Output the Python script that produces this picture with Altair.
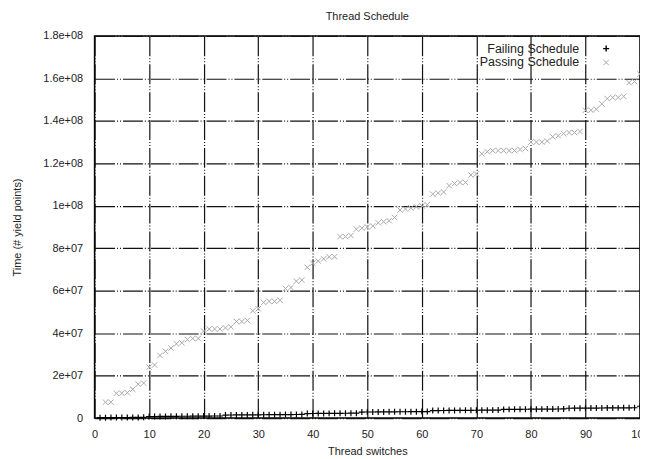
import altair as alt
import pandas as pd

# ---- data ----
fail_x = list(range(1, 101))
fail_y_e6 = [
    0.20, 0.22, 0.24, 0.26, 0.28, 0.30, 0.32, 0.34, 0.36,
    0.75, 0.77, 0.79, 0.81, 0.83, 0.85, 0.87, 0.89, 0.91, 0.93, 0.95, 0.97, 0.99, 1.01,
    1.45, 1.47, 1.49, 1.51, 1.53, 1.55, 1.57, 1.59, 1.61, 1.63, 1.65, 1.67, 1.69, 1.71, 1.73,
    2.15, 2.17, 2.19, 2.21, 2.23, 2.25, 2.27, 2.29, 2.31, 2.33,
    2.85, 2.87, 2.89, 2.91, 2.93, 2.95, 2.97, 2.99, 3.01, 3.03, 3.05, 3.07, 3.09,
    3.55, 3.57, 3.59, 3.61, 3.63, 3.65, 3.67, 3.69, 3.71, 3.73, 3.75, 3.77, 3.79,
    4.10, 4.12, 4.14, 4.16, 4.18, 4.20, 4.22, 4.24, 4.26, 4.28, 4.30, 4.32,
    4.65, 4.67, 4.69, 4.71, 4.73, 4.75, 4.77, 4.79, 4.81, 4.83, 4.85, 4.87, 4.89,
    5.6,
]
pass_x = list(range(2, 101))
pass_y_e7 = [
    0.75, 0.75, 1.17, 1.17, 1.2, 1.36, 1.6, 1.65,
    2.4, 2.5, 2.95, 3.15, 3.3, 3.5, 3.55, 3.7, 3.75, 3.75,
    4.1, 4.2, 4.2, 4.2, 4.25, 4.3, 4.55, 4.55, 4.6, 5.05,
    5.15, 5.45, 5.5, 5.5, 5.55, 6.1, 6.15, 6.45, 6.5, 7.1,
    7.3, 7.4, 7.5, 7.6, 7.6, 8.55, 8.55, 8.6, 8.9, 8.95,
    9.0, 9.05, 9.2, 9.25, 9.3, 9.45, 9.8, 9.85, 9.9, 9.95,
    10.0, 10.05, 10.55, 10.6, 10.65, 10.95, 11.05, 11.1, 11.1, 11.45,
    11.5, 12.45, 12.55, 12.6, 12.6, 12.6, 12.6, 12.6, 12.65, 12.7,
    13.0, 13.0, 13.0, 13.05, 13.25, 13.3, 13.4, 13.45, 13.45, 13.5,
    14.5, 14.5, 14.55, 14.8, 15.05, 15.1, 15.1, 15.15, 15.8, 15.85, 16.2,
]
x_ticks = [0, 10, 20, 30, 40, 50, 60, 70, 80, 90, 100]
y_ticks = [0, 2e7, 4e7, 6e7, 8e7, 1e8, 1.2e8, 1.4e8, 1.6e8, 1.8e8]
legend_labels = ["Failing Schedule", "Passing Schedule"]
chart_title = "Thread Schedule"
x_title = "Thread switches"
y_title = "Time (# yield points)"

fail_df = pd.DataFrame({"x": fail_x, "y": [v * 1e6 for v in fail_y_e6]})
pass_df = pd.DataFrame({"x": pass_x, "y": [v * 1e7 for v in pass_y_e7]})

FONT = "Liberation Sans"
TXT = "#222222"
X_PATH = "M-1,-1L1,1M-1,1L1,-1"
PLUS_PATH = "M-1,0L1,0M0,-1L0,1"
GRID_DASH = [20, 2, 1, 2, 1, 2]

xenc = alt.X(
    "x:Q",
    scale=alt.Scale(domain=[0, 100], nice=False),
    axis=alt.Axis(values=x_ticks, title=x_title, grid=True, domain=False, ticks=False,
                  labelPadding=10, titlePadding=7, labelFlush=False),
)
yenc = alt.Y(
    "y:Q",
    scale=alt.Scale(domain=[0, 1.8e8], nice=False),
    axis=alt.Axis(values=y_ticks, title=y_title, grid=True, domain=False, ticks=False,
                  labelPadding=12, titlePadding=20, labelFlush=False,
                  labelExpr="datum.value == 0 ? '0' : replace(format(datum.value, '.2~e'), 'e+', 'e+0')"),
)

passing = alt.Chart(pass_df).mark_point(
    shape=X_PATH, size=30, filled=False, stroke="#a8a8a8", strokeWidth=1, opacity=1
).encode(x=xenc, y=yenc)

failing = alt.Chart(fail_df).mark_point(
    shape=PLUS_PATH, size=36, filled=False, stroke="#000000", strokeWidth=1.2, opacity=1
).encode(x=xenc, y=yenc)

leg1_df = pd.DataFrame({"label": [legend_labels[0]]})
leg2_df = pd.DataFrame({"label": [legend_labels[1]]})

leg1_text = alt.Chart(leg1_df).mark_text(
    align="right", baseline="middle", font=FONT, fontSize=12.5, color=TXT
).encode(x=alt.value(487), y=alt.value(12.7), text="label:N")
leg2_text = alt.Chart(leg2_df).mark_text(
    align="right", baseline="middle", font=FONT, fontSize=12.5, color=TXT
).encode(x=alt.value(487), y=alt.value(26.7), text="label:N")
leg1_sym = alt.Chart(leg1_df).mark_point(
    shape=PLUS_PATH, size=36, filled=False, stroke="#000000", strokeWidth=1.4, opacity=1
).encode(x=alt.value(514), y=alt.value(12.7))
leg2_sym = alt.Chart(leg2_df).mark_point(
    shape=X_PATH, size=30, filled=False, stroke="#a8a8a8", strokeWidth=1, opacity=1
).encode(x=alt.value(514), y=alt.value(26.7))

chart = alt.layer(passing, failing, leg1_text, leg2_text, leg1_sym, leg2_sym).properties(
    width=548,
    height=384,
    title=alt.TitleParams(chart_title, font=FONT, fontSize=11, fontWeight="normal",
                          color=TXT, offset=8, anchor="middle"),
    autosize=alt.AutoSizeParams(type="none"),
    padding={"left": 87, "top": 27, "right": 0, "bottom": 38},
).configure_view(
    stroke="#000000", strokeWidth=1.5
).configure_axis(
    labelFont=FONT, labelFontSize=11, labelColor=TXT,
    titleFont=FONT, titleFontSize=11, titleColor=TXT, titleFontWeight="normal",
    gridColor="#111111", gridWidth=1.2, gridDash=GRID_DASH, gridOpacity=1,
)

chart.save("out.html", embed_options={"renderer": "svg", "actions": False})
